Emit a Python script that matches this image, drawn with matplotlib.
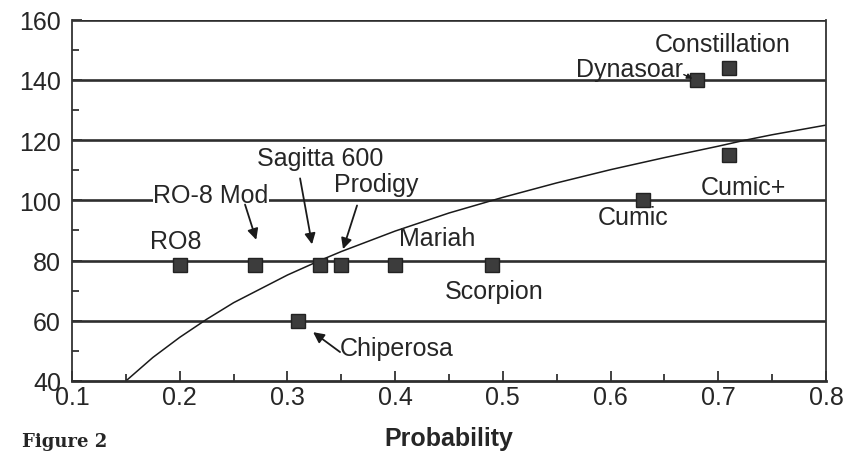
import matplotlib
matplotlib.use("Agg")
import matplotlib.pyplot as plt
from matplotlib.ticker import MultipleLocator
from matplotlib.transforms import ScaledTranslation

plt.rcParams['font.family'] = ['Liberation Sans', 'DejaVu Sans']

# programs: (probability, value)
names = ['RO8', 'RO-8 Mod', 'Sagitta 600', 'Prodigy', 'Mariah', 'Scorpion',
         'Chiperosa', 'Cumic', 'Cumic+', 'Dynasoar', 'Constillation']
prob = [0.20, 0.27, 0.33, 0.35, 0.40, 0.49, 0.31, 0.63, 0.71, 0.68, 0.71]
value = [78.5, 78.5, 78.5, 78.5, 78.5, 78.5, 60, 100, 115, 140, 144]

# threshold curve
curve_x = [0.15, 0.175, 0.20, 0.225, 0.25, 0.30, 0.33, 0.35, 0.40, 0.45, 0.50,
           0.55, 0.60, 0.65, 0.70, 0.725, 0.75, 0.80]
curve_y = [40, 47.8, 54.5, 60.5, 66, 75.2, 80, 83, 89.8, 95.8, 101,
           105.8, 110.2, 114.2, 118, 120, 121.8, 125]

levels = [60, 80, 100, 120, 140, 160]

ink = '#262626'

fig = plt.figure(figsize=(8.48, 4.52), dpi=100)
ax = fig.add_axes([0.085, 0.155, 0.889, 0.799])

for lv in levels:
    ax.axhline(lv, color='#2e2e2e', lw=1.9, zorder=1)

ax.plot(curve_x, curve_y, color='#1a1a1a', lw=1.1, zorder=2)
ax.plot(prob, value, ls='none', marker='s', ms=9.5, color='#3c3c3c',
        mec='#222222', zorder=3)

fs = 18
# labels without arrows
plain = {
    'RO8': (0.196, 86.5),
    'Mariah': (0.439, 87.5),
    'Scorpion': (0.492, 70),
    'Cumic': (0.621, 94.5),
    'Cumic+': (0.723, 104.5),
    'Constillation': (0.704, 152),
}
for n, (tx, ty) in plain.items():
    ax.text(tx, ty, n, fontsize=fs, ha='center', va='center', color=ink)

arrow = dict(arrowstyle='-|>', color='#1a1a1a', lw=1.3, mutation_scale=16,
             shrinkA=0, shrinkB=0)
ax.text(0.229, 101.7, 'RO-8 Mod', fontsize=fs, ha='center', va='center',
        color=ink, bbox=dict(fc='white', ec='none', pad=0.5))
ax.annotate('', xy=(0.271, 86.9), xytext=(0.2606, 98.6), arrowprops=arrow)
ax.text(0.330, 114.2, 'Sagitta 600', fontsize=fs, ha='center', va='center', color=ink)
ax.annotate('', xy=(0.3228, 85.4), xytext=(0.3117, 107.3), arrowprops=arrow)
ax.text(0.382, 105.3, 'Prodigy', fontsize=fs, ha='center', va='center', color=ink)
ax.annotate('', xy=(0.3516, 83.8), xytext=(0.3646, 98.3), arrowprops=arrow)
ax.text(0.401, 51, 'Chiperosa', fontsize=fs, ha='center', va='center', color=ink)
ax.annotate('', xy=(0.3238, 56.2), xytext=(0.3488, 49.6), arrowprops=arrow)
ax.text(0.667, 143.8, 'Dynasoar', fontsize=fs, ha='right', va='center', color=ink)
ax.annotate('', xy=(0.676, 140.4), xytext=(0.668, 141.8),
            arrowprops=dict(arrowstyle='-|>', color='#1a1a1a', lw=1, mutation_scale=8,
                            shrinkA=0, shrinkB=0))

ax.set_xlim(0.1, 0.8)
ax.set_ylim(40, 160)
ax.xaxis.set_major_locator(MultipleLocator(0.1))
ax.xaxis.set_minor_locator(MultipleLocator(0.05))
ax.yaxis.set_major_locator(MultipleLocator(20))
ax.yaxis.set_minor_locator(MultipleLocator(10))
ax.set_xticklabels([f'{v:.1f}' for v in ax.get_xticks()])
ax.tick_params(which='both', direction='in', top=False, right=False,
               color='#333333', labelsize=fs, labelcolor=ink)
ax.tick_params(which='major', length=7, width=1.3)
ax.tick_params(which='minor', length=5, width=1.3)
ax.tick_params(axis='y', pad=8)
ax.tick_params(axis='x', pad=3)

# nudge the "40" up a little so it clears "0.1"
lab40 = ax.get_yticklabels()[0]
lab40.set_transform(lab40.get_transform() + ScaledTranslation(0, 4 / 72, fig.dpi_scale_trans))

for s in ['left', 'right']:
    ax.spines[s].set_linewidth(1.3)
    ax.spines[s].set_color('#333333')
ax.spines['bottom'].set_linewidth(2)
ax.spines['bottom'].set_color('#2e2e2e')
ax.spines['top'].set_visible(False)

ax.set_xlabel('Probability', fontsize=18, fontweight='bold', color=ink, labelpad=12)
fig.text(0.026, 0.002, 'Figure 2', fontsize=13, fontweight='bold',
         family='DejaVu Serif', color=ink, va='bottom', ha='left')

fig.savefig('out.png', dpi=100)
